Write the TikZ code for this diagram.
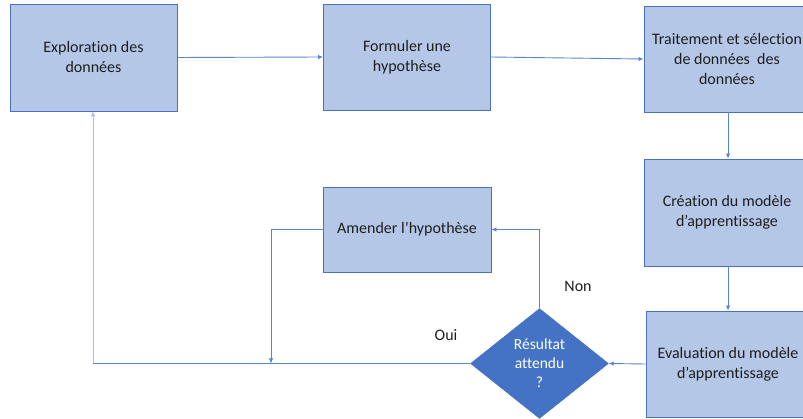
\documentclass[tikz,border=0pt]{standalone}
\usepackage{fontspec}
\setmainfont{Carlito}[Ligatures={NoCommon}]
\usetikzlibrary{shapes.geometric,arrows.meta}
\definecolor{boxfill}{HTML}{B4C7E7}
\definecolor{boxline}{HTML}{4A72B8}
\definecolor{darkblue}{HTML}{4472C4}
\definecolor{lineblue}{HTML}{5B84CC}
\definecolor{lightline}{HTML}{A6BDE4}
\definecolor{txt}{HTML}{1E1E1E}
\tikzset{
  box/.style={draw=boxline, fill=boxfill, line width=0.9pt, inner sep=2pt, align=center,
    text=txt, font=\fontsize{16}{20}\selectfont},
  decision/.style={diamond, draw=darkblue, fill=darkblue, inner sep=0pt, aspect=1.2545,
    minimum width=138pt, minimum height=110pt, align=center, text=white,
    font=\fontsize{15.5}{19}\selectfont},
  conn/.style={draw=lineblue, line width=0.9pt, -{Latex[length=5pt,width=4.5pt]}},
  plain/.style={draw=lineblue, line width=0.9pt},
  lbl/.style={text=txt, font=\fontsize{16}{20}\selectfont}
}
\begin{document}
\begin{tikzpicture}[x=1pt,y=-1pt]
\useasboundingbox (0,0) rectangle (803,419);
\clip (0,0) rectangle (803,419);
\node[box, minimum width=167pt, minimum height=107pt] (expl) at (93.5,57.5) {Exploration des\\données};
\node[box, minimum width=167pt, minimum height=106pt] (form) at (407,57) {Formuler une\\hypothèse};
\node[box, minimum width=166pt, minimum height=106pt] (trait) at (727,59) {Traitement et sélection\\de données\ \ des\\données};
\node[box, minimum width=166pt, minimum height=107pt] (crea) at (727,212.5) {Création du modèle\\d’apprentissage};
\node[box, minimum width=168pt, minimum height=85pt] (amend) at (407,229.5) {Amender l’hypothèse};
\node[box, minimum width=164pt, minimum height=106pt] (eval) at (728,364) {Evaluation du modèle\\d’apprentissage};
\node[decision] (dec) at (539.5,363.5) {Résultat\\attendu\\?};

\coordinate (c1) at (93,363.5);
\coordinate (c2) at (539.5,229.5);
\coordinate (c3) at (271,229.5);
\coordinate (c4) at (271,363.5);

\draw[conn] (expl.east) -- (form.west);
\draw[conn] (form.east) -- (trait.west);
\draw[conn] (trait.south -| 728,0) -- (crea.north -| 728,0);
\draw[conn] (crea.south -| 728,0) -- (eval.north -| 728,0);
\draw[conn] (eval.west) -- (dec.east);
\draw[plain] (dec.west) -- (c1);
\draw[conn, draw=lightline] (c1) -- (expl.south -| c1);
\draw[conn] (dec.north) -- (c2) -- (amend.east);
\draw[conn] (amend.west) -- (c3) -- (c4);

\node[lbl] (oui) at (446,335) {Oui};
\node[lbl] (non) at (578,286) {Non};
\end{tikzpicture}
\end{document}
